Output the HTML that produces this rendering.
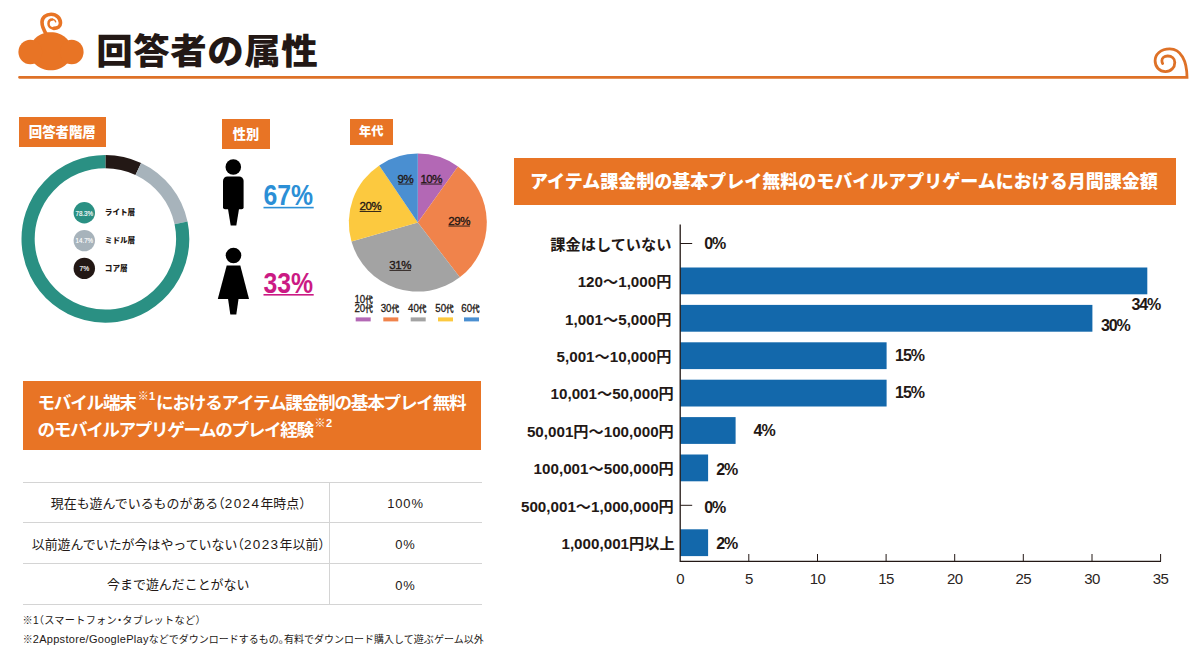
<!DOCTYPE html>
<html lang="ja">
<head>
<meta charset="utf-8">
<title>回答者の属性</title>
<style>
html,body{margin:0;padding:0;background:#fff;}
body{width:1200px;height:662px;position:relative;overflow:hidden;font-family:"Liberation Sans","Noto Sans CJK JP",sans-serif;color:#231815;}
#g{position:absolute;left:0;top:0;}
.t{position:absolute;white-space:nowrap;line-height:1;}
.lab{position:absolute;background:#e87425;color:#fff;font-weight:900;text-align:center;white-space:nowrap;}
svg text{font-family:"Liberation Sans","Noto Sans CJK JP",sans-serif;}
.cat{font-size:15.2px;font-weight:700;fill:#231815;text-anchor:end;}
.val{font-size:16px;font-weight:700;fill:#231815;letter-spacing:-1.1px;}
.ax{font-size:15px;fill:#2b2523;text-anchor:middle;letter-spacing:-0.6px;}
.pl{font-size:11.5px;fill:#231815;stroke:#231815;stroke-width:0.35px;text-anchor:middle;letter-spacing:-0.4px;}
.lg{font-size:9px;font-weight:500;fill:#231815;stroke:#231815;stroke-width:0.3px;}
.lg tspan{font-size:11.5px;}
.dl{font-size:7.6px;font-weight:900;fill:#231815;}
.dp{font-size:7.8px;font-weight:400;fill:#fff;stroke:#fff;stroke-width:0.15px;}
.sp{font-size:11px;position:relative;top:-9px;letter-spacing:0.3px;margin:0 0.6px 0 2px;}
.h{font-feature-settings:"halt";}
.d{letter-spacing:1.4px;font-size:13.5px;}
.fl{font-size:11px;letter-spacing:0.3px;}
table{position:absolute;left:23px;top:481.6px;width:458.5px;border-collapse:collapse;font-size:12.95px;font-weight:400;}
td{height:39.75px;text-align:center;border-top:1px solid #d4d4d4;border-bottom:1px solid #d4d4d4;padding:0;}
td.l{width:300.5px;padding-left:5px;border-right:1px solid #d4d4d4;}
td.v{letter-spacing:0.9px;}
td.v span{position:relative;top:1.5px;}
</style>
</head>
<body>
<svg id="g" width="1200" height="662" viewBox="0 0 1200 662">
<!-- header line + spiral -->
<path d="M19.5,77.3 L1187,77.3 C1187,61 1181,48.9 1169.7,48.9 C1160.5,48.9 1155.1,54.5 1155.1,60.8 C1155.1,67 1159.5,71.6 1165.5,71.6 C1171.3,71.6 1174.8,67.3 1174.8,62.4 C1174.8,58.5 1171.8,56 1167.7,56 C1164.2,56 1161.9,58 1161.9,60.6 C1161.9,61.8 1162.2,62.8 1162.6,63.5" fill="none" stroke="#de7127" stroke-width="2.8" stroke-linejoin="miter" stroke-linecap="round"/>
<!-- logo -->
<g fill="#e87425"><path d="M50.8,32.3 C62.77,32.3 71.8,40.47 71.8,51.3 C71.8,62.13 62.77,70.3 50.8,70.3 C38.83,70.3 29.799999999999997,62.13 29.799999999999997,51.3 C29.799999999999997,40.47 38.83,32.3 50.8,32.3 Z"/><ellipse cx="30.3" cy="52" rx="11.9" ry="12.2"/><ellipse cx="71.7" cy="52" rx="11.9" ry="12.2"/></g>
<g fill="none" stroke="#e87425" stroke-linecap="round"><path d="M46.8,35 C43.6,30 41.9,26 42,22 C42.2,17.5 46,14.3 51.1,14.3 C56.6,14.3 60.5,18.2 60.5,23 C60.5,26.5 57.5,28.4 53.8,28.4" stroke-width="3.6"/><path d="M53.8,28.4 C50.5,28.4 48.5,26.3 48.5,23.7 C48.5,21 50.2,19.4 52.3,19.4" stroke-width="2.5"/><path d="M52.3,19.4 C54,19.4 55.3,20.4 55.7,21.9" stroke-width="1.4"/></g>
<!-- donut -->
<g fill="none" stroke-width="13.2"><path d="M105.40,161.60 A77.3,77.3 0 0 1 138.31,168.96" stroke="#231815"/><path d="M138.31,168.96 A77.3,77.3 0 0 1 181.04,222.96" stroke="#a7b3bb"/><path d="M181.04,222.96 A77.3,77.3 0 1 1 105.40,161.60" stroke="#2a9083"/></g>
<circle cx="84.3" cy="212.8" r="10.7" fill="#2a9083"/><circle cx="84.3" cy="240.6" r="10.7" fill="#a7b3bb"/><circle cx="84.3" cy="268.4" r="10.7" fill="#231815"/>
<text class="dp" x="75.4" y="215.5" textLength="17.8" lengthAdjust="spacingAndGlyphs">78.3%</text><text class="dp" x="75.5" y="243.3" textLength="17.6" lengthAdjust="spacingAndGlyphs">14.7%</text><text class="dp" x="79.5" y="271.1" textLength="9.6" lengthAdjust="spacingAndGlyphs">7%</text>
<text class="dl" x="104.8" y="215">ライト層</text><text class="dl" x="104.8" y="242.8">ミドル層</text><text class="dl" x="104.8" y="270.6">コア層</text>
<!-- gender -->
<g fill="#000"><circle cx="233.3" cy="167" r="7.8"/><path d="M227.5,176.4 h11.6 a4.5,4.5 0 0 1 4.5,4.5 v26.4 a2,2 0 0 1 -2,2 h-16.6 a2,2 0 0 1 -2,-2 v-26.4 a4.5,4.5 0 0 1 4.5,-4.5 z"/><path d="M228,209 h11 l-2.7,16.6 h-5.6 z"/>
<circle cx="233.5" cy="255.5" r="7.8"/><path d="M226.7,265.5 h13.6 l8.7,33.5 h-31.2 z"/><path d="M228,298.5 h10.6 l-2.3,16 h-6 z"/></g>
<text x="263.5" y="204.9" textLength="49.6" lengthAdjust="spacingAndGlyphs" style="font-size:30px;font-weight:700;fill:#2b8fd6">67%</text><rect x="263.5" y="206.8" width="50.2" height="1.6" fill="#2b8fd6"/>
<text x="263.5" y="292.6" textLength="49.6" lengthAdjust="spacingAndGlyphs" style="font-size:30px;font-weight:700;fill:#cb1a84">33%</text><rect x="263.5" y="294" width="50.2" height="1.6" fill="#cb1a84"/>
<!-- pie -->
<path d="M417.8,222.6 L417.80,153.60 A69,69 0 0 1 457.97,166.50 Z" fill="#b368b5"/>
<path d="M417.8,222.6 L457.97,166.50 A69,69 0 0 1 459.80,277.34 Z" fill="#f0834b"/>
<path d="M417.8,222.6 L459.80,277.34 A69,69 0 0 1 351.47,241.62 Z" fill="#a3a3a3"/>
<path d="M417.8,222.6 L351.47,241.62 A69,69 0 0 1 379.22,165.40 Z" fill="#fcc93f"/>
<path d="M417.8,222.6 L379.22,165.40 A69,69 0 0 1 417.80,153.60 Z" fill="#4a8fd1"/>
<text class="pl" x="431.3" y="182.6">10%</text><rect x="420.8" y="183.6" width="21" height="0.9" fill="#231815"/>
<text class="pl" x="459.2" y="224.6">29%</text><rect x="448.45" y="225.6" width="21.5" height="0.9" fill="#231815"/>
<text class="pl" x="400.2" y="268.9">31%</text><rect x="389.45" y="269.9" width="21.5" height="0.9" fill="#231815"/>
<text class="pl" x="370.4" y="210">20%</text><rect x="359.65" y="211" width="21.5" height="0.9" fill="#231815"/>
<text class="pl" x="405.5" y="182.6">9%</text><rect x="398.25" y="183.6" width="14.5" height="0.9" fill="#231815"/>
<rect x="355.7" y="317.4" width="15" height="4" fill="#b368b5"/>
<rect x="383.3" y="317.4" width="15" height="4" fill="#f0834b"/>
<rect x="410.7" y="317.4" width="15" height="4" fill="#a3a3a3"/>
<rect x="438" y="317.4" width="15" height="4" fill="#fcc93f"/>
<rect x="464" y="317.4" width="15" height="4" fill="#4a8fd1"/>
<text class="lg" x="354.4" y="302.6" textLength="18.4" lengthAdjust="spacingAndGlyphs"><tspan>10</tspan>代</text>
<text class="lg" x="354.4" y="312.0" textLength="18.4" lengthAdjust="spacingAndGlyphs"><tspan>20</tspan>代</text>
<text class="lg" x="380.7" y="312.0" textLength="18.4" lengthAdjust="spacingAndGlyphs"><tspan>30</tspan>代</text>
<text class="lg" x="408" y="312.0" textLength="18.4" lengthAdjust="spacingAndGlyphs"><tspan>40</tspan>代</text>
<text class="lg" x="435.3" y="312.0" textLength="18.4" lengthAdjust="spacingAndGlyphs"><tspan>50</tspan>代</text>
<text class="lg" x="461.3" y="312.0" textLength="18.4" lengthAdjust="spacingAndGlyphs"><tspan>60</tspan>代</text>
<!-- bars -->
<path d="M680.2,243.5 h12" stroke="#231815" stroke-width="1"/>
<text class="cat" x="671.4" y="249.7">課金はしていない</text>
<text class="val" x="704.2" y="249.4">0%</text>
<rect x="680.2" y="267.5" width="467.1" height="26.8" fill="#1368ab"/>
<text class="cat" x="671.4" y="287.1">120～1,000円</text>
<text class="val" x="1131.5" y="309.5">34%</text>
<rect x="680.2" y="304.9" width="412.2" height="26.8" fill="#1368ab"/>
<text class="cat" x="671.4" y="324.5">1,001～5,000円</text>
<text class="val" x="1101" y="331">30%</text>
<rect x="680.2" y="342.3" width="206.4" height="26.8" fill="#1368ab"/>
<text class="cat" x="671.4" y="361.9">5,001～10,000円</text>
<text class="val" x="895.1" y="361.0">15%</text>
<rect x="680.2" y="379.7" width="206.4" height="26.8" fill="#1368ab"/>
<text class="cat" x="673.8" y="399.3">10,001～50,000円</text>
<text class="val" x="895.1" y="398.4">15%</text>
<rect x="680.2" y="417.1" width="55.4" height="26.8" fill="#1368ab"/>
<text class="cat" x="673.8" y="436.7">50,001円～100,000円</text>
<text class="val" x="753.6" y="436.3">4%</text>
<rect x="680.2" y="454.5" width="27.9" height="26.8" fill="#1368ab"/>
<text class="cat" x="673.8" y="474.1">100,001～500,000円</text>
<text class="val" x="716.2" y="474.9">2%</text>
<path d="M680.2,505.3 h12" stroke="#231815" stroke-width="1"/>
<text class="cat" x="673.8" y="511.5">500,001～1,000,000円</text>
<text class="val" x="704.2" y="512.7">0%</text>
<rect x="680.2" y="529.3" width="27.9" height="26.8" fill="#1368ab"/>
<text class="cat" x="674.6" y="548.9">1,000,001円以上</text>
<text class="val" x="716.2" y="548.6">2%</text>
<path d="M680.2,224.6 V561.3 H1161" fill="none" stroke="#231815" stroke-width="1.3"/>
<path d="M748.8,554 V561.3" stroke="#231815" stroke-width="1"/>
<path d="M817.5,554 V561.3" stroke="#231815" stroke-width="1"/>
<path d="M886.1,554 V561.3" stroke="#231815" stroke-width="1"/>
<path d="M954.7,554 V561.3" stroke="#231815" stroke-width="1"/>
<path d="M1023.3,554 V561.3" stroke="#231815" stroke-width="1"/>
<path d="M1092.0,554 V561.3" stroke="#231815" stroke-width="1"/>
<path d="M1160.6,554 V561.3" stroke="#231815" stroke-width="1"/>
<text class="ax" x="680.2" y="584">0</text>
<text class="ax" x="748.8" y="584">5</text>
<text class="ax" x="817.5" y="584">10</text>
<text class="ax" x="886.1" y="584">15</text>
<text class="ax" x="954.7" y="584">20</text>
<text class="ax" x="1023.3" y="584">25</text>
<text class="ax" x="1092.0" y="584">30</text>
<text class="ax" x="1160.6" y="584">35</text>
</svg>
<div class="t" style="left:96.3px;top:35px;font-size:36.5px;font-weight:900;letter-spacing:0.5px;transform:scaleY(0.955);transform-origin:0 0;">回答者の属性</div>
<div class="lab" style="left:18.5px;top:116.7px;width:87.5px;height:30px;line-height:31px;font-size:13.4px;">回答者階層</div>
<div class="lab" style="left:222px;top:118.7px;width:48px;height:30.3px;line-height:31.5px;font-size:13.2px;">性別</div>
<div class="lab" style="left:350px;top:118.7px;width:42.5px;height:26.8px;line-height:27px;font-size:12.2px;">年代</div>
<div class="lab" style="left:22.9px;top:380.8px;width:458.6px;height:69px;"></div>
<div class="t" style="left:37.5px;top:395.3px;font-size:17.6px;font-weight:700;color:#fff;letter-spacing:-1.22px;">モバイル端末<span class="sp">※1</span>におけるアイテム課金制の基本プレイ無料</div>
<div class="t" style="left:37.5px;top:421.6px;font-size:17.6px;font-weight:700;color:#fff;letter-spacing:-1.38px;">のモバイルアプリゲームのプレイ経験<span class="sp">※2</span></div>
<table>
<tr><td class="l">現在も遊んでいるものがある<span class="h">（</span><span class="d">2024</span>年時点<span class="h">）</span></td><td class="v"><span>100%</span></td></tr>
<tr><td class="l">以前遊んでいたが今はやっていない<span class="h">（</span><span class="d">2023</span>年以前<span class="h">）</span></td><td class="v"><span>0%</span></td></tr>
<tr><td class="l">今まで遊んだことがない</td><td class="v"><span>0%</span></td></tr>
</table>
<div class="t" style="left:22.5px;top:616px;font-size:10.2px;letter-spacing:0.25px;">※1<span class="h">（</span>スマートフォン<span class="h">・</span>タブレットなど<span class="h">）</span></div>
<div class="t" style="left:22.7px;top:633.6px;font-size:10px;letter-spacing:0.02px;">※<span class="fl">2Appstore/GooglePlay</span>などでダウンロードするもの<span class="h">。</span>有料でダウンロード購入して遊ぶゲーム以外</div>
<div class="lab" style="left:514px;top:158px;width:662.2px;height:46.7px;"></div>
<div class="t" style="left:530px;top:173px;font-size:18px;font-weight:900;color:#fff;letter-spacing:0px;">アイテム課金制の基本プレイ無料のモバイルアプリゲームにおける月間課金額</div>

</body>
</html>
